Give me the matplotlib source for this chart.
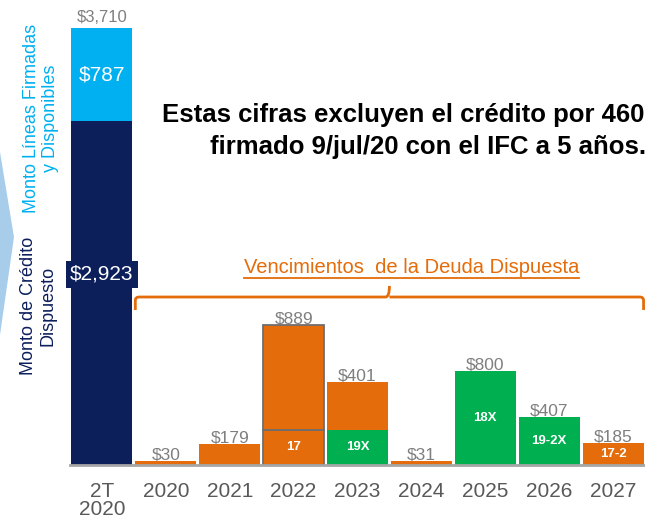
import numpy as np
import matplotlib
matplotlib.use("Agg")
import matplotlib.pyplot as plt
from matplotlib.path import Path
from matplotlib.patches import PathPatch, Polygon
from matplotlib.lines import Line2D

plt.rcParams.update({
    'font.family': ['Liberation Sans', 'DejaVu Sans'],
    'font.size': 12,
})

# --- data -------------------------------------------------------------
CATEGORIES = ["2T\n2020", "2020", "2021", "2022", "2023", "2024", "2025", "2026", "2027"]

CREDITO_DISPUESTO = 2923      # navy part of first bar
LINEAS_DISPONIBLES = 787      # light-blue part of first bar
TOTAL_LINEAS = 3710

# maturities 2020..2027: lower (bond) segment and upper (other debt) segment
BOND_VALS = [0, 0, 300, 300, 0, 800, 407, 185]
BOND_NAMES = ["", "", "17", "19X", "", "18X", "19-2X", "17-2"]
BOND_GREEN = [False, False, False, True, False, True, True, False]
OTHER_VALS = [30, 179, 889, 401, 31, 0, 0, 0]
TOP_LABELS = [30, 179, 889, 401, 31, 800, 407, 185]

NAVY = "#0C1F5B"
LIGHT = "#00B0F0"
ORANGE = "#E46C0A"
GREEN = "#00B050"
GREY_TXT = "#7F7F7F"
TICK_TXT = "#595959"

W, H = 645, 522
fig = plt.figure(figsize=(W / 100, H / 100), dpi=100)
ax = fig.add_axes([70 / W, 57 / H, 575 / W, 1 - 57 / H])
ax.set_xlim(-0.5, len(CATEGORIES) - 0.5)
ax.set_ylim(0, 3950)
for s in ["top", "right", "left"]:
    ax.spines[s].set_visible(False)
ax.spines["bottom"].set_color("#A6A6A6")
ax.spines["bottom"].set_linewidth(2)
ax.set_yticks([])
ax.set_xticks(range(len(CATEGORIES)))
ax.set_xticklabels(CATEGORIES, color=TICK_TXT, fontsize=15, linespacing=0.95)
ax.tick_params(axis="x", length=0, pad=12)

bw = 0.955
# first bar: stacked
ax.bar(0, CREDITO_DISPUESTO, width=bw, color=NAVY, zorder=2)
ax.bar(0, LINEAS_DISPONIBLES, bottom=CREDITO_DISPUESTO, width=bw, color=LIGHT, zorder=2)
ax.annotate(f"${TOTAL_LINEAS:,}", (0, TOTAL_LINEAS), xytext=(0, 2), textcoords="offset points",
            ha="center", va="bottom", color=GREY_TXT, fontsize=12)
ax.text(0, CREDITO_DISPUESTO + LINEAS_DISPONIBLES / 2, f"${LINEAS_DISPONIBLES:,}",
        ha="center", va="center", color="white", fontsize=15)
ax.text(0, 1620, f"${CREDITO_DISPUESTO:,}", ha="center", va="center", color="white",
        fontsize=15, zorder=4,
        bbox=dict(boxstyle="square,pad=0.2", fc=NAVY, ec="none"))

# maturity bars
xs = np.arange(1, len(CATEGORIES))
for x, bv, bn, g, ov, lab in zip(xs, BOND_VALS, BOND_NAMES, BOND_GREEN, OTHER_VALS, TOP_LABELS):
    outlined = bv > 0 and ov > 0 and not g
    ec = "#6E6E6E" if outlined else "none"
    if bv > 0:
        ax.bar(x, bv, width=bw, color=GREEN if g else ORANGE, edgecolor=ec,
               linewidth=1.3, zorder=2)
        ax.text(x, bv / 2, bn, ha="center", va="center", color="white",
                fontsize=9.5, fontweight="bold", zorder=3)
    if ov > 0:
        ax.bar(x, ov, bottom=bv, width=bw, color=ORANGE, edgecolor=ec,
               linewidth=1.3, zorder=2)
    ax.annotate(f"${lab:,}", (x, bv + ov), xytext=(0, -1), textcoords="offset points",
                ha="center", va="bottom", color=GREY_TXT, fontsize=12.5, zorder=1)

# brace over maturities
bx0 = xs[0] - bw / 2
bx1 = xs[-1] + bw / 2
bxm = (bx0 + bx1) / 2
yb, ydn, yup = 1427, 1317, 1521
verts = [(bx0, ydn), (bx0, yb - 30), (bx0, yb), (bx0 + 0.06, yb),
         (bxm - 0.06, yb), (bxm, yb), (bxm, yup),
         (bxm, yb), (bxm + 0.06, yb),
         (bx1 - 0.06, yb), (bx1, yb), (bx1, yb - 30), (bx1, ydn)]
codes = [Path.MOVETO, Path.LINETO, Path.CURVE3, Path.CURVE3,
         Path.LINETO, Path.CURVE3, Path.CURVE3,
         Path.MOVETO, Path.LINETO,
         Path.LINETO, Path.CURVE3, Path.CURVE3, Path.LINETO]
ax.add_patch(PathPatch(Path(verts, codes), fill=False, ec=ORANGE, lw=2, clip_on=False))

t = ax.text(bxm + 0.35, 1674, "Vencimientos  de la Deuda Dispuesta", ha="center", va="center",
            color=ORANGE, fontsize=14.5)
fig.canvas.draw()
bb = t.get_window_extent(fig.canvas.get_renderer())
uy = bb.y0 - 1
fig.add_artist(Line2D([bb.x0 / W, bb.x1 / W], [uy / H, uy / H], color=ORANGE, lw=1.3))

# note text (runs off the right edge as in the slide)
fig.text(162 / W, 1 - 115 / H, "Estas cifras excluyen el crédito por 460m", ha="left",
         va="center", fontsize=18.5, fontweight="bold", color="black")
fig.text(210 / W, 1 - 147 / H, "firmado 9/jul/20 con el IFC a 5 años.", ha="left",
         va="center", fontsize=18.5, fontweight="bold", color="black")

# side labels
fig.text(41 / W, 1 - 118 / H, "Monto Líneas Firmadas\ny Disponibles", rotation=90,
         ha="center", va="center", multialignment="center", color=LIGHT, fontsize=13)
fig.text(38 / W, 1 - 306 / H, "Monto de Crédito\nDispuesto", rotation=90,
         ha="center", va="center", multialignment="center", color=NAVY, fontsize=13)

# partial chevron at left edge
fig.add_artist(Polygon([(0, 1 - 152 / H), (14 / W, 1 - 237 / H), (0, 1 - 335 / H)],
                       closed=True, fc="#A8CDEB", ec="none", transform=fig.transFigure))

fig.savefig("out.png", dpi=100)
